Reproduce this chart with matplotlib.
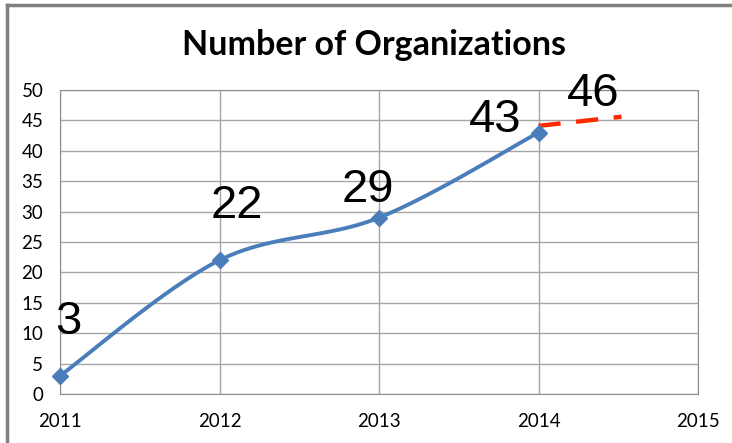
import numpy as np
import matplotlib.pyplot as plt
from matplotlib.lines import Line2D

# data
years = [2011, 2012, 2013, 2014]
orgs = [3, 22, 29, 43]
proj_years = [2014, 2014.52]
proj_orgs = [44.1, 45.6]
label_text = ['3', '22', '29', '43', '46']
label_x = [2011.05, 2012.11, 2012.93, 2013.73, 2014.34]
label_y = [11.9, 31.0, 33.5, 45.0, 49.3]


def smooth(x, y, n=40):
    """Excel-like smoothed line: Bezier segments with Catmull-Rom handles."""
    x = np.asarray(x, float)
    y = np.asarray(y, float)
    px = np.concatenate([[x[0]], x, [x[-1]]])
    py = np.concatenate([[y[0]], y, [y[-1]]])
    xs, ys = [], []
    t = np.linspace(0, 1, n)
    for i in range(1, len(px) - 2):
        p0 = np.array([px[i], py[i]])
        p3 = np.array([px[i + 1], py[i + 1]])
        p1 = p0 + (np.array([px[i + 1], py[i + 1]]) - np.array([px[i - 1], py[i - 1]])) / 6
        p2 = p3 - (np.array([px[i + 2], py[i + 2]]) - np.array([px[i], py[i]])) / 6
        pts = ((1 - t) ** 3)[:, None] * p0 + (3 * (1 - t) ** 2 * t)[:, None] * p1 \
            + (3 * (1 - t) * t ** 2)[:, None] * p2 + (t ** 3)[:, None] * p3
        xs.append(pts[:, 0])
        ys.append(pts[:, 1])
    return np.concatenate(xs), np.concatenate(ys)


fig = plt.figure(figsize=(7.32, 4.43), dpi=100)
ax = fig.add_axes([60 / 732, 1 - 394 / 443, 638 / 732, 304 / 443])

# frame of the screenshot
fig.add_artist(Line2D([7 / 732, 1], [1 - 5 / 443, 1 - 5 / 443], color='#7f7f7f', lw=2.5))
fig.add_artist(Line2D([7 / 732, 7 / 732], [0, 1 - 5 / 443], color='#7f7f7f', lw=2.5))

sx, sy = smooth(years, orgs)
ax.plot(sx, sy, color='#4a7ebb', lw=2.8, zorder=3)
ax.plot(years, orgs, ls='none', marker='D', ms=8, color='#4a7ebb', zorder=4, clip_on=False)
ax.plot(proj_years, proj_orgs, color='#ff2a00', lw=3.2, ls=(0, (5, 3.5)), zorder=3)

for txt, lx, ly in zip(label_text, label_x, label_y):
    ax.text(lx, ly, txt, fontsize=34, family='Liberation Sans', ha='center', va='center')

ax.set_xlim(2011, 2015)
ax.set_ylim(0, 50)
ax.set_xticks([2011, 2012, 2013, 2014, 2015])
ax.set_yticks(range(0, 51, 5))
ax.grid(True, color='#a6a6a6', lw=1)
ax.set_axisbelow(True)
for s in ax.spines.values():
    s.set_color('#8c8c8c')
ax.tick_params(length=0, labelsize=13.5)
ax.tick_params(axis='x', pad=14)
ax.tick_params(axis='y', pad=12)
for lab in ax.get_xticklabels() + ax.get_yticklabels():
    lab.set_family('Lato')

fig.text(374 / 732, 1 - 45 / 443, 'Number of Organizations',
         fontsize=24.5, fontweight='bold', family='Lato', ha='center', va='center')

fig.savefig('out.png', dpi=100)
